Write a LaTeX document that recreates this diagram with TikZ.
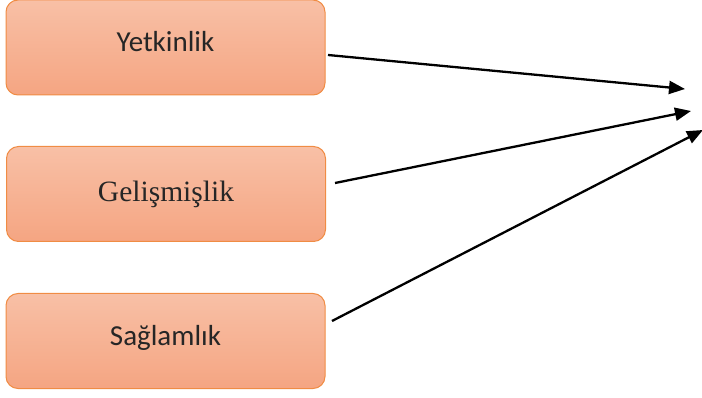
\documentclass[tikz,border=0pt]{standalone}
\usepackage{fontspec}
\setmainfont{Carlito}
\newfontfamily\timesfont{Liberation Serif}
\usepackage{xcolor}
\usetikzlibrary{arrows.meta,positioning}

\definecolor{boxtop}{HTML}{F8C0A6}
\definecolor{boxbottom}{HTML}{F5A582}
\definecolor{boxline}{HTML}{F08C44}
\definecolor{boxtext}{HTML}{262626}

\begin{document}
\begin{tikzpicture}[
    x=1pt, y=-1pt,
    box/.style={
        rectangle,
        rounded corners=12pt,
        draw=boxline,
        line width=1pt,
        top color=boxtop,
        bottom color=boxbottom,
        minimum width=319pt,
        minimum height=95pt,
        inner sep=0pt,
        align=center,
        text=boxtext,
        font=\fontsize{29}{34}\selectfont
    },
    arrow/.style={-{Triangle[length=16pt,width=13pt]}, line width=2.3pt, black}
]
\useasboundingbox (0,0) rectangle (702,398);

% Nodes
\node[box] (yet) at (165.5,47.5) {\raisebox{12pt}{Yetkinlik}};
\node[box] (gel) at (166,194) {\timesfont\fontsize{29.5}{34}\selectfont Gelişmişlik};
\node[box] (sag) at (165.5,341) {\raisebox{12pt}{Sağlamlık}};

% Arrow ends
\coordinate (yetend) at (328,55);
\coordinate (gelend) at (335,183);
\coordinate (sagend) at (332,321);
\coordinate (t1) at (685,89);
\coordinate (t2) at (691,111);
\coordinate (t3) at (703,130);

% Arrows
\draw[arrow] (yetend) -- (t1);
\draw[arrow] (gelend) -- (t2);
\draw[arrow] (sagend) -- (t3);

\end{tikzpicture}
\end{document}
